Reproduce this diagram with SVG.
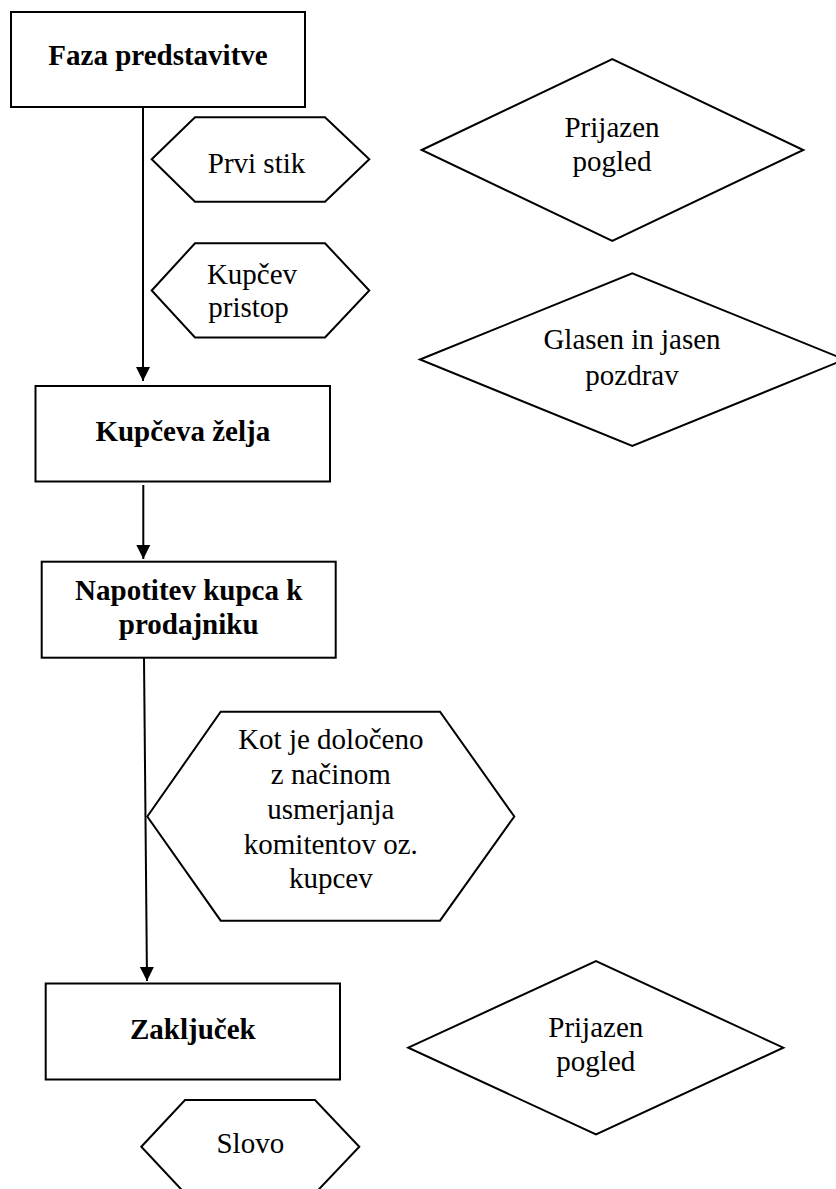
<svg xmlns="http://www.w3.org/2000/svg" width="836" height="1189" viewBox="0 0 836 1189">
  <style>
    .shape { fill: #fff; stroke: #000; stroke-width: 2; }
    .edge { fill: none; stroke: #000; stroke-width: 2; }
    text { font-family: "Liberation Serif", "Times New Roman", serif; font-size: 29px; fill: #000; text-anchor: middle; }
    .b { font-weight: bold; }
  </style>
  <defs>
    <marker id="arrow" markerUnits="userSpaceOnUse" markerWidth="16" markerHeight="16" viewBox="0 0 16 16" refX="15" refY="8" orient="auto">
      <polygon points="1,1 15,8 1,15" fill="#000"/>
    </marker>
  </defs>
  <rect width="836" height="1189" fill="#fff"/>

  <!-- connectors -->
  <g id="connectors">
    <line class="edge" x1="143" y1="107" x2="143" y2="381" marker-end="url(#arrow)"/>
    <line class="edge" x1="143.3" y1="485" x2="143.3" y2="559" marker-end="url(#arrow)"/>
    <line class="edge" x1="144" y1="658" x2="147" y2="981" marker-end="url(#arrow)"/>
  </g>

  <!-- main process steps -->
  <g id="faza-predstavitve">
    <rect class="shape" x="11" y="12" width="294" height="95"/>
    <text class="b" x="158" y="65">Faza predstavitve</text>
  </g>
  <g id="kupceva-zelja">
    <rect class="shape" x="35.5" y="386" width="294.5" height="95.5"/>
    <text class="b" x="182.8" y="440.7">Kupčeva želja</text>
  </g>
  <g id="napotitev">
    <rect class="shape" x="41.7" y="561.7" width="294" height="96"/>
    <text class="b" x="188.7" y="600">Napotitev kupca k</text>
    <text class="b" x="188.7" y="634">prodajniku</text>
  </g>
  <g id="zakljucek">
    <rect class="shape" x="45.7" y="983.5" width="294.3" height="96"/>
    <text class="b" x="192.8" y="1038.5">Zaključek</text>
  </g>

  <!-- hexagons -->
  <g id="prvi-stik">
    <polygon class="shape" points="151.7,159.3 195,117.3 325,117.3 369.3,159.3 325,201.7 195,201.7"/>
    <text x="256.5" y="172.7">Prvi stik</text>
  </g>
  <g id="kupcev-pristop">
    <polygon class="shape" points="151.7,290.5 195,243.3 325,243.3 369.3,290.5 325,337.5 195,337.5"/>
    <text x="252" y="284">Kupčev</text>
    <text x="248.5" y="317.3">pristop</text>
  </g>
  <g id="kot-je-doloceno">
    <polygon class="shape" points="147.3,816.5 220.7,711.7 440,711.7 514.3,816.5 440,920.7 220.7,920.7"/>
    <text x="330.8" y="749.3">Kot je določeno</text>
    <text x="330.8" y="784.2">z načinom</text>
    <text x="330.8" y="819">usmerjanja</text>
    <text x="330.8" y="853.8">komitentov oz.</text>
    <text x="330.8" y="888.3">kupcev</text>
  </g>
  <g id="slovo">
    <polygon class="shape" points="141.3,1146.7 185,1100 315,1100 359.3,1146.7 315,1193.4 185,1193.4"/>
    <text x="250.3" y="1153.3">Slovo</text>
  </g>

  <!-- diamonds -->
  <g id="prijazen-pogled-1">
    <polygon class="shape" points="421.7,150 612.3,59 803.3,150 612.3,241"/>
    <text x="612" y="136.7">Prijazen</text>
    <text x="612" y="171">pogled</text>
  </g>
  <g id="glasen-pozdrav">
    <polygon class="shape" points="420,359.5 632.3,273.3 844.6,359.5 632.3,446"/>
    <text x="632" y="349.3">Glasen in jasen</text>
    <text x="632" y="385">pozdrav</text>
  </g>
  <g id="prijazen-pogled-2">
    <polygon class="shape" points="408.3,1047.7 596,961 783.3,1047.7 596,1134.4"/>
    <text x="595.8" y="1036.7">Prijazen</text>
    <text x="595.8" y="1071">pogled</text>
  </g>
</svg>
